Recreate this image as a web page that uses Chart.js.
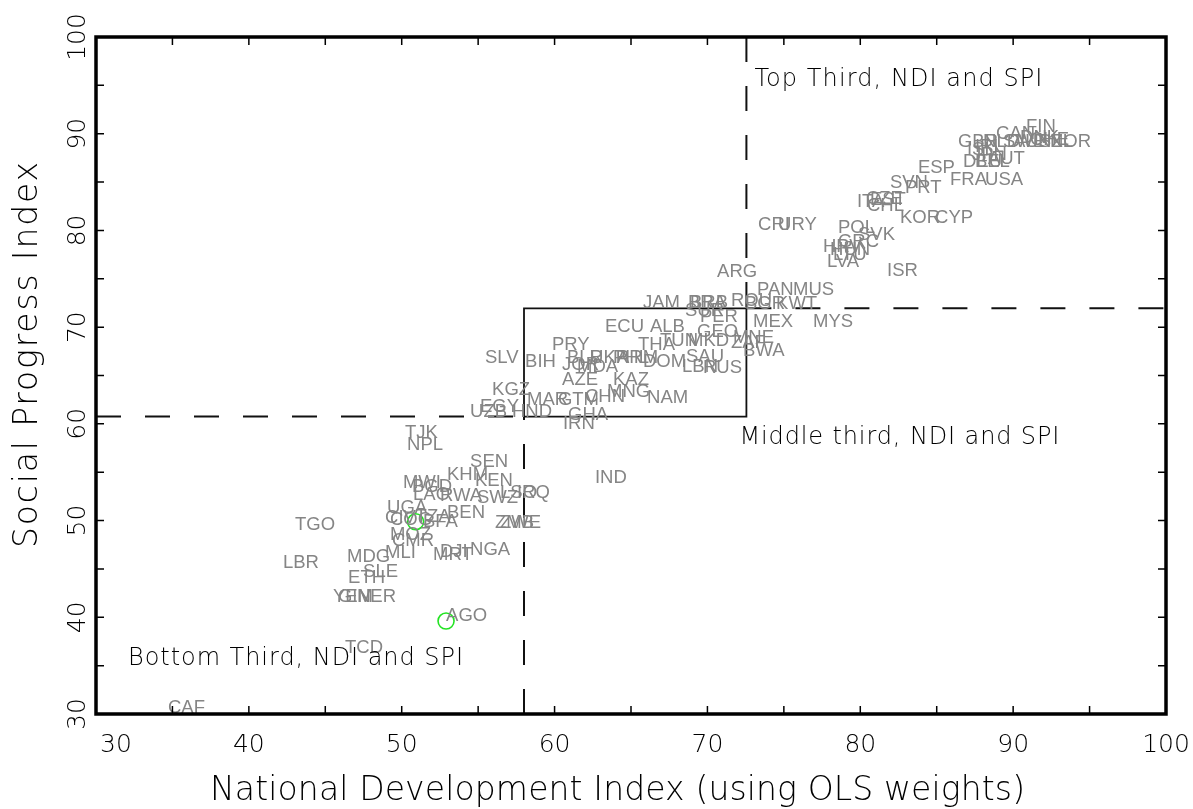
<!DOCTYPE html>
<html>
<head>
<meta charset="utf-8">
<title>Social Progress Index vs National Development Index</title>
<script src="https://cdn.jsdelivr.net/npm/chart.js@4.4.1/dist/chart.umd.min.js"></script>
<style>
  html, body { margin: 0; padding: 0; background: #ffffff; }
  #wrap { width: 1193px; height: 809px; position: relative; }
</style>
</head>
<body>
<div id="wrap"><canvas id="chart" width="1193" height="809"></canvas></div>
<script>
// Country codes with their National Development Index (x) and Social Progress Index (y)
const countries = [
  'FIN','NOR','CAN','GBR','NLD','SWE','AUS','DNK','CHE','NZL',
  'ISL','IRL','JPN','DEU','BEL','AUT','ESP','FRA','USA','SVN',
  'PRT','ITA','CZE','EST','CHL','KOR','CYP','CRI','URY','POL',
  'SVK','GRC','HRV','HUN','LTU','LVA','ISR','ARG','PAN','MUS',
  'JAM','BRA','BRB','SUR','ROU','BGR','KWT','PER','MEX','MYS',
  'ECU','ALB','GEO','THA','TUN','MKD','MNE','ZAF','BWA','SAU',
  'LBN','RUS','SLV','PRY','BIH','BLR','UKR','ARM','JOR','MDA',
  'PHL','DOM','AZE','KAZ','KGZ','MAR','GTM','CHN','MNG','NAM',
  'UZB','EGY','HND','GHA','IRN','TJK','NPL','SEN','KHM','KEN',
  'MWI','BGD','LAO','RWA','SWZ','LSO','IRQ','UGA','TZA','BEN',
  'CIV','COG','BFA','ZMB','ZWE','TGO','MOZ','CMR','MDG','MLI',
  'MRT','DJI','NGA','LBR','SLE','ETH','YEM','GIN','NER','AGO',
  'TCD','IND','CAF'
];
const ndi = [
  90.84, 92.41, 88.88, 86.39, 88.03, 89.34, 89.99, 90.45, 91.10, 91.63,
  86.98, 87.50, 87.31, 86.72, 87.50, 88.35, 83.77, 85.87, 88.16, 81.94,
  82.92, 79.78, 80.37, 80.63, 80.44, 82.60, 84.89, 73.31, 74.62, 78.54,
  79.85, 78.54, 77.56, 78.02, 78.21, 77.82, 81.75, 70.63, 73.24, 75.60,
  65.78, 68.73, 68.86, 68.53, 71.54, 72.46, 74.49, 69.51, 72.98, 76.91,
  63.30, 66.24, 69.32, 65.46, 66.90, 68.73, 71.67, 71.54, 72.33, 68.60,
  68.34, 69.71, 55.45, 59.83, 58.07, 60.81, 62.32, 64.08, 60.49, 61.47,
  63.82, 65.78, 60.49, 63.82, 55.91, 58.20, 60.22, 61.99, 63.43, 66.05,
  54.47, 55.12, 57.21, 60.88, 60.55, 50.21, 50.35, 54.47, 52.96, 54.79,
  50.08, 50.67, 50.74, 52.50, 54.92, 56.43, 57.54, 49.04, 50.91, 52.96,
  48.91, 49.23, 51.39, 56.10, 56.43, 43.02, 49.23, 49.36, 46.42, 48.91,
  52.05, 52.50, 54.47, 42.23, 47.47, 46.49, 45.50, 45.83, 47.07, 52.90,
  46.29, 62.64, 34.71
];
const spi = [
  90.18, 88.63, 89.45, 88.63, 88.63, 88.63, 88.63, 89.04, 88.83, 88.63,
  87.80, 88.11, 87.28, 86.56, 86.56, 86.87, 85.94, 84.70, 84.70, 84.39,
  83.87, 82.42, 82.73, 82.63, 82.01, 80.77, 80.77, 80.04, 80.04, 79.73,
  79.01, 78.29, 77.77, 77.46, 76.94, 76.22, 75.29, 75.18, 73.32, 73.32,
  71.98, 71.98, 71.98, 71.15, 72.19, 71.88, 71.88, 70.53, 70.01, 70.01,
  69.50, 69.50, 68.98, 67.64, 68.05, 68.05, 68.36, 67.84, 67.02, 66.39,
  65.36, 65.26, 66.29, 67.64, 65.88, 66.29, 66.29, 66.29, 65.57, 65.36,
  66.29, 65.88, 64.02, 64.02, 62.98, 61.95, 61.95, 62.26, 62.78, 62.15,
  60.71, 61.22, 60.71, 60.40, 59.47, 58.54, 57.30, 55.54, 54.19, 53.57,
  53.37, 52.95, 52.13, 52.02, 51.82, 52.33, 52.33, 50.78, 49.88, 50.26,
  49.75, 49.54, 49.33, 49.23, 49.23, 49.02, 47.99, 47.37, 45.71, 46.13,
  45.92, 46.23, 46.44, 45.09, 44.16, 43.54, 41.58, 41.58, 41.58, 39.61,
  36.30, 53.88, 30.10
];
// Countries marked with a circle
const circled = ['TZA', 'AGO'];

// Thirds of the distribution: cut points on each index
const ndiCuts = [58.0, 72.55];
const spiCuts = [60.75, 71.95];

// Axis ranges, labelled ticks and tick marks
const xRange = [30, 100];
const yRange = [30, 100];
const xTickLabels = [30, 40, 50, 60, 70, 80, 90, 100];
const yTickLabels = [30, 40, 50, 60, 70, 80, 90, 100];
const tickMarks = [30, 35, 40, 45, 50, 55, 60, 65, 70, 75, 80, 85, 90, 95, 100];

const xTitle = 'National Development Index (using OLS weights)';
const yTitle = 'Social Progress Index';
const regionNotes = [
  { text: 'Top Third, NDI and SPI' },
  { text: 'Middle third, NDI and SPI' },
  { text: 'Bottom Third, NDI and SPI' }
];

const LIGHT = '200 ';
const AXIS_FONT = '"DejaVu Sans", sans-serif';

const points = countries.map((c, i) => ({ x: ndi[i], y: spi[i] }));
const circledPoints = circled.map(c => {
  const i = countries.indexOf(c);
  return { x: ndi[i], y: spi[i] };
});

const dashed = {
  showLine: true, pointRadius: 0, borderColor: '#111', borderWidth: 2,
  borderDash: [25, 24], fill: false, clip: 4
};

// Draws text starting at x so that it spans the given width
function spanText(ctx, text, x, y, width) {
  ctx.letterSpacing = '0px';
  const w = ctx.measureText(text).width;
  const ls = (width - w) / Math.max(1, text.length - 1);
  ctx.letterSpacing = ls + 'px';
  ctx.textAlign = 'left';
  ctx.fillText(text, x, y);
  ctx.letterSpacing = '0px';
}

const countryLabels = {
  id: 'countryLabels',
  afterDatasetsDraw(chart) {
    const ctx = chart.ctx;
    const meta = chart.getDatasetMeta(0);
    ctx.save();
    ctx.font = '18.5px "Liberation Sans", Arial, sans-serif';
    ctx.fillStyle = '#858585';
    ctx.textAlign = 'left';
    ctx.textBaseline = 'alphabetic';
    meta.data.forEach((el, i) => {
      ctx.fillText(countries[i], el.x, el.y);
    });
    ctx.restore();
  }
};

const frameAndAxes = {
  id: 'frameAndAxes',
  afterDraw(chart) {
    const ctx = chart.ctx;
    const { left, right, top, bottom } = chart.chartArea;
    const xs = chart.scales.x, ys = chart.scales.y;
    ctx.save();
    ctx.strokeStyle = '#000';
    ctx.fillStyle = '#000';

    // inward tick marks on all four sides
    ctx.lineWidth = 1.5;
    ctx.beginPath();
    tickMarks.forEach(v => {
      const px = xs.getPixelForValue(v);
      ctx.moveTo(px, bottom); ctx.lineTo(px, bottom - 8);
      ctx.moveTo(px, top); ctx.lineTo(px, top + 8);
      const py = ys.getPixelForValue(v);
      ctx.moveTo(left, py); ctx.lineTo(left + 8, py);
      ctx.moveTo(right, py); ctx.lineTo(right - 8, py);
    });
    ctx.stroke();

    // frame
    ctx.lineWidth = 3.5;
    ctx.strokeRect(left, top, right - left, bottom - top);

    // x tick labels
    ctx.font = LIGHT + '25px ' + AXIS_FONT;
    ctx.textBaseline = 'alphabetic';
    xTickLabels.forEach((v, i) => {
      const px = xs.getPixelForValue(v);
      if (i === 0) { ctx.textAlign = 'left'; ctx.fillText(String(v), px + 4, bottom + 38); }
      else { ctx.textAlign = 'center'; ctx.fillText(String(v), px, bottom + 38); }
    });
    // y tick labels, rotated to read upwards
    yTickLabels.forEach(v => {
      const py = ys.getPixelForValue(v);
      ctx.save();
      ctx.translate(left - 11, py);
      ctx.rotate(-Math.PI / 2);
      ctx.textAlign = 'center';
      ctx.fillText(String(v), 0, 0);
      ctx.restore();
    });

    // axis titles
    ctx.font = LIGHT + '33px ' + AXIS_FONT;
    spanText(ctx, xTitle, 210, 800, 815);
    ctx.save();
    ctx.translate(37, 548);
    ctx.rotate(-Math.PI / 2);
    spanText(ctx, yTitle, 0, 0, 386);
    ctx.restore();

    // region notes
    ctx.font = LIGHT + '24px ' + AXIS_FONT;
    const nx = [xs.getPixelForValue(ndiCuts[1]) + 8, xs.getPixelForValue(ndiCuts[1]) - 7, left + 32];
    const ny = [top + 49, ys.getPixelForValue(spiCuts[0]) + 27, bottom - 49];
    const nw = [288, 320, 335];
    regionNotes.forEach((n, i) => spanText(ctx, n.text, nx[i], ny[i], nw[i]));
    ctx.restore();
  }
};

new Chart(document.getElementById('chart').getContext('2d'), {
  type: 'scatter',
  data: {
    datasets: [
      { data: points, pointRadius: 0, pointHoverRadius: 0, borderWidth: 0 },
      { data: circledPoints, pointRadius: 8, pointHoverRadius: 8, pointStyle: 'circle',
        borderColor: '#22e322', pointBorderWidth: 1.6, backgroundColor: 'rgba(0,0,0,0)' },
      // middle-third box
      { data: [
          { x: ndiCuts[0], y: spiCuts[0] }, { x: ndiCuts[1], y: spiCuts[0] },
          { x: ndiCuts[1], y: spiCuts[1] }, { x: ndiCuts[0], y: spiCuts[1] },
          { x: ndiCuts[0], y: spiCuts[0] } ],
        showLine: true, pointRadius: 0, borderColor: '#111', borderWidth: 1.8, fill: false },
      // bottom-third boundaries
      Object.assign({ data: [{ x: xRange[0], y: spiCuts[0] }, { x: ndiCuts[0], y: spiCuts[0] }] }, dashed),
      Object.assign({ data: [{ x: ndiCuts[0], y: yRange[0] }, { x: ndiCuts[0], y: spiCuts[0] }] }, dashed),
      // top-third boundaries
      Object.assign({ data: [{ x: ndiCuts[1], y: yRange[1] }, { x: ndiCuts[1], y: spiCuts[1] }] }, dashed),
      Object.assign({ data: [{ x: ndiCuts[1], y: spiCuts[1] }, { x: xRange[1], y: spiCuts[1] }] }, dashed)
    ]
  },
  options: {
    responsive: false,
    animation: false,
    events: [],
    layout: { padding: { left: 0, top: 37, right: 27, bottom: 0 } },
    plugins: { legend: { display: false }, tooltip: { enabled: false } },
    scales: {
      x: {
        type: 'linear', min: xRange[0], max: xRange[1],
        grid: { display: false }, border: { display: false },
        ticks: { display: false },
        afterFit(scale) { scale.height = 95; }
      },
      y: {
        type: 'linear', min: yRange[0], max: yRange[1],
        grid: { display: false }, border: { display: false },
        ticks: { display: false },
        afterFit(scale) { scale.width = 96; }
      }
    }
  },
  plugins: [countryLabels, frameAndAxes]
});
</script>
</body>
</html>
